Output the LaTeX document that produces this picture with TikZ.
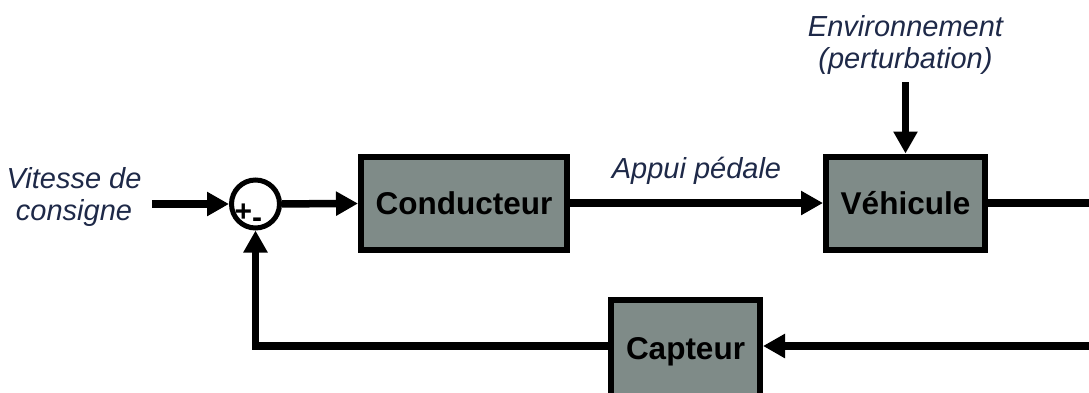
\documentclass[tikz,border=0pt]{standalone}
\usepackage{fontspec}
\setmainfont{Liberation Sans}
\usetikzlibrary{arrows.meta}
\definecolor{boxfill}{RGB}{127,139,136}
\definecolor{labelcol}{RGB}{30,41,72}
\tikzset{
  blockbox/.style={draw=black, line width=6pt, fill=boxfill, inner sep=0pt,
    minimum height=93pt, font=\fontsize{31.5}{36}\selectfont\bfseries},
  sumnode/.style={circle, draw=black, line width=5pt, fill=white, inner sep=0pt, minimum size=48pt},
  flow/.style={line width=7.5pt, line join=miter, -{Triangle[length=22pt,width=23pt]}},
  plainflow/.style={line width=7.5pt, line join=miter},
  lbl/.style={text=labelcol, font=\fontsize{29}{32}\selectfont\itshape, inner sep=0pt}
}
\begin{document}
\begin{tikzpicture}[x=1pt,y=-1pt]
\useasboundingbox (0,0) rectangle (1089,392);
% blocks
\node[sumnode] (sum) at (255.5,204) {};
\node[anchor=base west, inner sep=0pt, font=\fontsize{30}{30}\selectfont\bfseries] (signs) at (234.5,221) {+\raisebox{-6pt}{-}};
\node[blockbox, minimum width=206pt] (cond) at (464,203) {Conducteur};
\node[blockbox, minimum width=159pt] (veh) at (905.5,203) {Véhicule};
\node[blockbox, minimum width=149pt, minimum height=104pt] (capt) at (685.5,352) {\raisebox{6pt}{Capteur}};
% labels
\node[lbl, align=center] (vit) at (74,196.5) {Vitesse de\\consigne};
\node[lbl, align=center] (env) at (905.5,45) {Environnement\\(perturbation)};
% free ends
\coordinate (vin) at (152,204);
\coordinate (envtop) at (905.5,82);
\coordinate (vout) at (1096,203);
\coordinate (fbin) at (1096,346);
% connectors
\draw[flow] (vin) -- (sum);
\draw[flow] (sum) -- (cond);
\draw[flow] (cond) -- node[lbl, midway, anchor=base, yshift=25pt] (appui) {Appui pédale} (veh);
\draw[flow] (envtop) -- (veh.north);
\draw[plainflow] (veh.east) -- (vout);
\draw[flow] (fbin) -- (fbin -| capt.east);
\draw[flow] (capt.west |- fbin) -| (sum.south);
\end{tikzpicture}
\end{document}
